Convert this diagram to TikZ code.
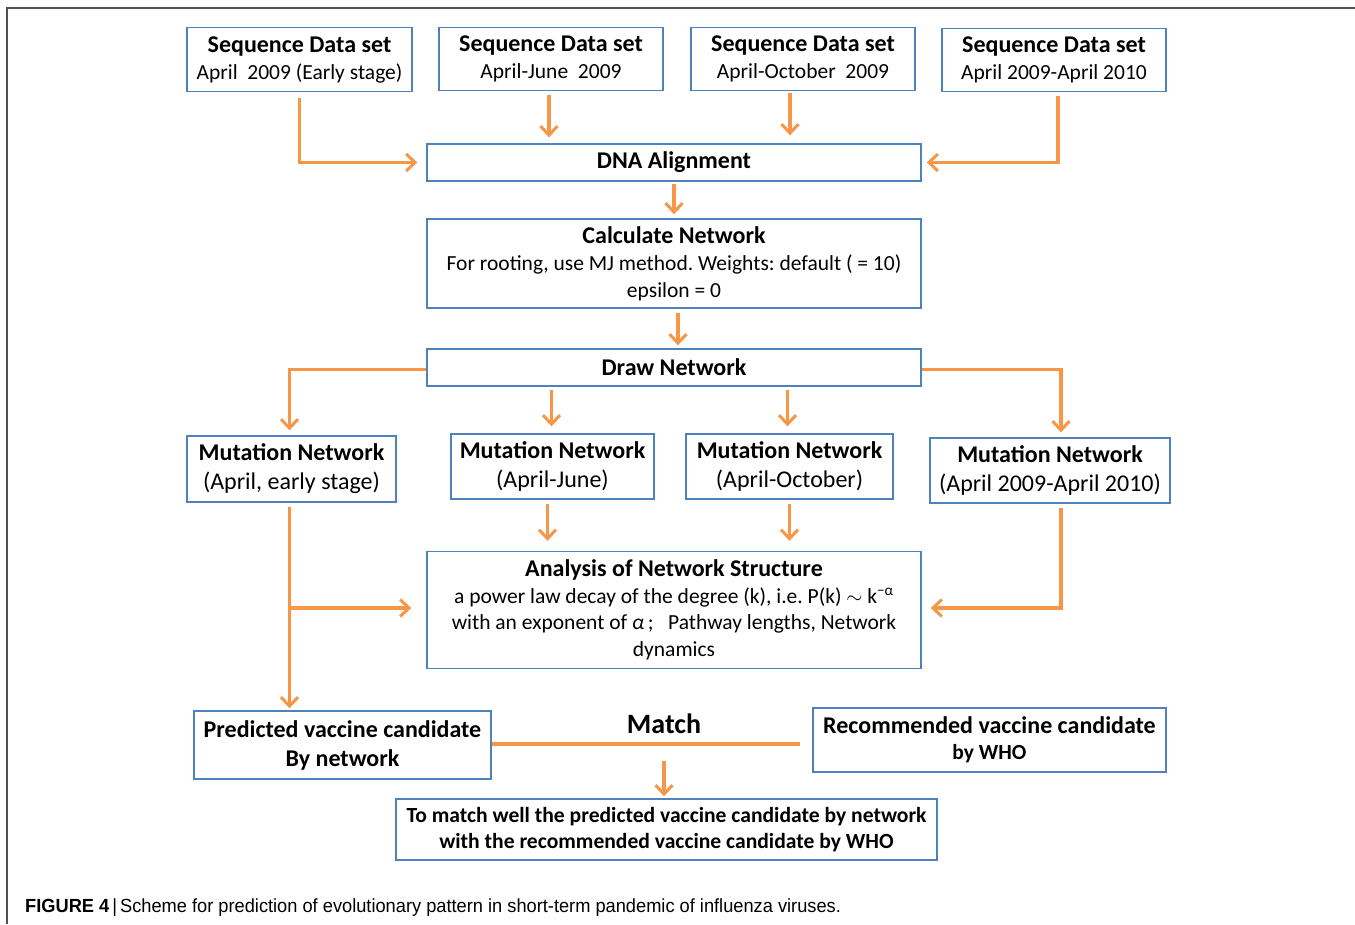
\documentclass[tikz,border=0pt]{standalone}
\usepackage{fontspec}
\setmainfont{Carlito}
\newfontfamily\capfont{Liberation Sans}
\usetikzlibrary{arrows.meta,calc}
\frenchspacing
\definecolor{boxblue}{RGB}{79,129,189}
\definecolor{arrorange}{RGB}{247,150,70}
\definecolor{framegray}{RGB}{80,80,80}
\newcommand{\bt}[1]{{\fontsize{24}{27}\selectfont\bfseries #1}}
\tikzset{
  box/.style={draw=boxblue, line width=1.4pt, fill=white, inner sep=0pt, align=center,
    font=\fontsize{21.5}{27}\selectfont},
  flow/.style={draw=arrorange, line width=3.2pt, line cap=butt,
    -{Straight Barb[length=9pt,width=17pt,line width=3pt]}},
  plainflow/.style={draw=arrorange, line width=3.2pt},
}
\begin{document}
\begin{tikzpicture}[x=1pt,y=-1pt]
\useasboundingbox (0,0) rectangle (1355,924);
\fill[white] (0,0) rectangle (1355,924);
\draw[framegray, line width=1.6pt] (1355,8) -- (7,8) -- (7,924);

% top row
\node[box, minimum width=225pt, minimum height=64pt] (s1) at (299.5,59.5) {\bt{Sequence Data set}\\April~~2009 (Early stage)};
\node[box, minimum width=224pt, minimum height=63pt] (s2) at (551,59) {\bt{Sequence Data set}\\April-June~~2009};
\node[box, minimum width=224pt, minimum height=63pt] (s3) at (803,59) {\bt{Sequence Data set}\\April-October~~2009};
\node[box, minimum width=224pt, minimum height=63pt] (s4) at (1054,60) {\bt{Sequence Data set}\\April 2009-April 2010};

\node[box, minimum width=494pt, minimum height=37pt] (dna) at (674,162.5) {\bt{DNA Alignment}};
\node[box, minimum width=494pt, minimum height=89pt] (calc) at (674,263.5) {\bt{Calculate Network}\\For rooting, use MJ method. Weights: default ( = 10)\\epsilon = 0};
\node[box, minimum width=494pt, minimum height=37pt] (drawn) at (674,367.5) {\bt{Draw Network}};

% mutation networks
\node[box, minimum width=209pt, minimum height=66pt, font=\fontsize{24}{29}\selectfont] (m1) at (291.5,469) {\textbf{Mutation Network}\\(April, early stage)};
\node[box, minimum width=203pt, minimum height=65pt, font=\fontsize{24}{29}\selectfont] (m2) at (552.5,466.5) {\textbf{Mutation Network}\\(April-June)};
\node[box, minimum width=207pt, minimum height=65pt, font=\fontsize{24}{29}\selectfont] (m3) at (789.5,466.5) {\textbf{Mutation Network}\\(April-October)};
\node[box, minimum width=240pt, minimum height=65pt, font=\fontsize{24}{29}\selectfont] (m4) at (1050,470.5) {\textbf{Mutation Network}\\(April 2009-April 2010)};

\node[box, minimum width=494pt, minimum height=117pt, font=\fontsize{21.5}{26.5}\selectfont] (ana) at (674,610) {\bt{Analysis of Network Structure}\\a power law decay of the degree (k), i.e. P(k) $\sim$ k\textsuperscript{−α}\\with an exponent of \textit{α}\,;~~ Pathway lengths, Network\\dynamics};

\node[box, minimum width=297pt, minimum height=68pt, font=\fontsize{24}{29}\selectfont] (pred) at (342.5,745) {\textbf{Predicted vaccine candidate}\\\textbf{By network}};
\node[box, minimum width=353pt, minimum height=64pt, font=\fontsize{24}{26}\selectfont] (rec) at (989.5,740) {\textbf{Recommended vaccine candidate}\\{\fontsize{21.5}{24}\selectfont\textbf{by WHO}}};
\node[box, minimum width=541pt, minimum height=61pt, font=\fontsize{21.6}{26}\selectfont] (fin) at (666.5,829.5) {\textbf{To match well the predicted vaccine candidate by network}\\\textbf{with the recommended vaccine candidate by WHO}};

\node[font=\fontsize{28}{30}\selectfont\bfseries] (match) at (664,724) {Match};

% arrows top
\draw[flow] ([yshift=-6pt]s1.south) |- ([xshift=-9pt]dna.west);
\draw[flow] ([xshift=-2pt,yshift=-4pt]s2.south) -- ([xshift=-2pt,yshift=6pt]s2.south |- dna.north);
\draw[flow] ([xshift=-13pt,yshift=-2pt]s3.south) -- ([xshift=-13pt,yshift=8pt]s3.south |- dna.north);
\draw[flow] ([xshift=4pt,yshift=-4pt]s4.south) |- ([xshift=5pt]dna.east);
\draw[flow] ([yshift=-2pt]dna.south) -- ([yshift=4pt]calc.north);
\draw[flow] ([xshift=4pt,yshift=-4pt]calc.south) -- ([xshift=4pt,yshift=3pt]drawn.north);

% draw network branches
\draw[flow] ([yshift=-2pt]drawn.west) -| ([xshift=-2pt,yshift=5pt]m1.north);
\draw[flow] ([yshift=-2pt]drawn.east) -| ([xshift=11pt,yshift=5pt]m4.north);
\draw[flow] ([xshift=-1pt,yshift=-3pt]m2.north |- drawn.south) -- ([xshift=-1pt,yshift=7pt]m2.north);
\draw[flow] ([xshift=-2pt,yshift=-3pt]m3.north |- drawn.south) -- ([xshift=-2pt,yshift=7pt]m3.north);

% to analysis
\draw[flow] ([xshift=-5pt,yshift=-4pt]m2.south) -- ([xshift=-5pt,yshift=10pt]m2.south |- ana.north);
\draw[flow] ([yshift=-4pt]m3.south) -- ([yshift=10pt]m3.south |- ana.north);
\coordinate (br) at ([xshift=-2pt,yshift=2pt]m1.south |- ana.west);
\draw[flow] ([xshift=-2pt,yshift=-4pt]m1.south) -- ([xshift=-2pt,yshift=2pt]m1.south |- pred.north);
\draw[flow] (br) -- ([xshift=-15pt,yshift=2pt]ana.west);
\draw[flow] ([xshift=11pt,yshift=-4pt]m4.south) |- ([xshift=9pt,yshift=2pt]ana.east);

% match
\draw[plainflow] ([yshift=1pt]pred.east) -- ([xshift=-12pt,yshift=1pt]pred.east -| rec.west);
\draw[flow] ([yshift=-16pt]match.south |- pred.east) -- ([yshift=2pt]match.south |- fin.north);

% caption
\node[anchor=west, inner sep=0pt, font=\capfont\fontsize{19}{22}\selectfont] (cap) at (25,908) {\scalebox{0.96}[1]{\textbf{FIGURE 4}\,|\,Scheme for prediction of evolutionary pattern in short-term pandemic of influenza viruses.}};
\end{tikzpicture}
\end{document}
